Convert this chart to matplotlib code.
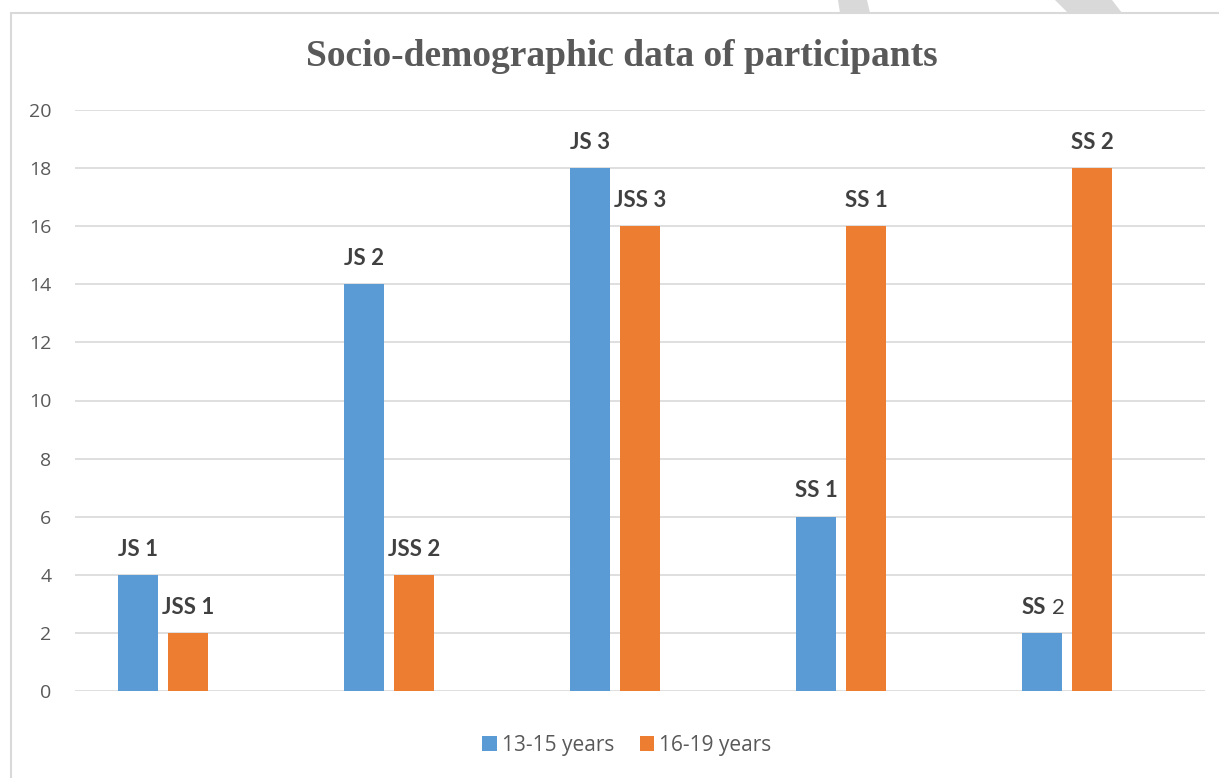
import numpy as np
import matplotlib.pyplot as plt
from matplotlib.patches import Polygon, Rectangle

# data
groups = ["JS 1", "JS 2", "JS 3", "SS 1", "SS 2"]
young = [4, 14, 18, 6, 2]
old = [2, 4, 16, 16, 18]
young_labels = ["JS 1", "JS 2", "JS 3", "SS 1", "SS 2"]
old_labels = ["JSS 1", "JSS 2", "JSS 3", "SS 1", "SS 2"]
series_names = ["13-15 years", "16-19 years"]
yticks = [0, 2, 4, 6, 8, 10, 12, 14, 16, 18, 20]

blue = "#5b9bd5"
orange = "#ed7d31"
txt = "#595959"
lbl = "#404040"
lab_font = "Lato"

W, H = 1219, 778
fig = plt.figure(figsize=(W / 100, H / 100), dpi=100)
ax = fig.add_axes([75 / W, 1 - 691 / H, (1205 - 75) / W, (691 - 110) / H])

x = np.arange(len(groups))
bw = 40 / 226
off = 25 / 226
b1 = ax.bar(x - off, young, bw, color=blue, zorder=3, label=series_names[0])
b2 = ax.bar(x + off, old, bw, color=orange, zorder=3, label=series_names[1])

ax.set_xlim(-88 / 226, 1042 / 226)
ax.set_ylim(0, 20)
ax.set_yticks(yticks)
ax.set_xticks([])
ax.grid(axis="y", color="#d9d9d9", linewidth=1.2, zorder=0)
for s in ax.spines.values():
    s.set_visible(False)
ax.tick_params(axis="y", length=0, pad=17, labelsize=14, labelcolor=txt)
for t in ax.get_yticklabels():
    t.set_fontfamily("Open Sans")

# bar labels
for xi, v, lab in zip(x, young, young_labels):
    if lab == "SS 2":
        # only the "SS" part is bold in the original
        ax.annotate("SS", (xi - off, v), xytext=(-6, 11), textcoords="offset points",
                    ha="center", va="bottom", fontsize=16, fontweight="bold",
                    color=lbl, family=lab_font)
        ax.annotate("2", (xi - off, v), xytext=(12, 11), textcoords="offset points",
                    ha="center", va="bottom", fontsize=16, color=lbl, family=lab_font)
    else:
        ax.annotate(lab, (xi - off, v), xytext=(0, 11), textcoords="offset points",
                    ha="center", va="bottom", fontsize=16, fontweight="bold",
                    color=lbl, family=lab_font)
for xi, v, lab in zip(x, old, old_labels):
    ax.annotate(lab, (xi + off, v), xytext=(0, 11), textcoords="offset points",
                ha="center", va="bottom", fontsize=16, fontweight="bold",
                color=lbl, family=lab_font)

fig.text(622 / W, 1 - 57 / H, "Socio-demographic data of participants",
         ha="center", va="center", fontsize=27, fontweight="bold",
         color=txt, family="Liberation Serif")

leg = fig.legend(handles=[b1, b2], loc="center", bbox_to_anchor=(627 / W, 1 - 745 / H),
                 ncol=2, frameon=False, handlelength=0.7, handleheight=0.7,
                 handletextpad=0.25, columnspacing=1.2,
                 prop={"family": "Open Sans", "size": 15})
for t in leg.get_texts():
    t.set_color(txt)

# chart border and the cut-off watermark at the top
fig.patches.append(Rectangle((11 / W, -0.01), 1.02, 1 - 13 / H + 0.01, transform=fig.transFigure,
                             fill=False, edgecolor="#d9d9d9", linewidth=1.5))
for pts in [[(838, 0), (867, 0), (870, 13), (840, 13)],
            [(1055, 0), (1112, 0), (1122, 13), (1068, 13)]]:
    fig.patches.append(Polygon([(px / W, 1 - py / H) for px, py in pts], closed=True,
                               transform=fig.transFigure, facecolor="#d9d9d9",
                               edgecolor="none"))

fig.savefig("out.png", dpi=100, facecolor="white")
